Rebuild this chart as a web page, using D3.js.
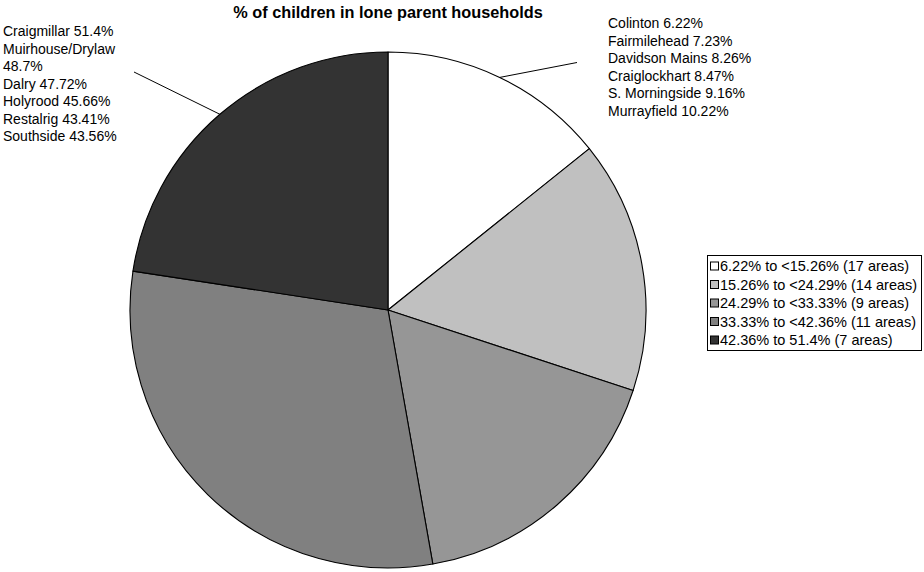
<!DOCTYPE html>
<html>
<head>
<meta charset="utf-8">
<script src="https://cdn.jsdelivr.net/npm/d3@7/dist/d3.min.js"></script>
<style>
  body { margin: 0; background: #fff; }
  svg { display: block; font-family: "Liberation Sans", Arial, sans-serif; }
</style>
</head>
<body>
<svg id="chart" width="924" height="572"></svg>
<script>
// Bands of % of children living in lone parent households
const bandLabels = [
  "6.22% to <15.26% (17 areas)",
  "15.26% to <24.29% (14 areas)",
  "24.29% to <33.33% (9 areas)",
  "33.33% to <42.36% (11 areas)",
  "42.36% to 51.4% (7 areas)"
];
// share of the pie taken by each band (%)
const bandShares = [14.25, 15.8, 17.17, 30.19, 22.59];
const bandColors = ["#ffffff", "#c0c0c0", "#969696", "#808080", "#333333"];

// lowest-rate areas (first band) and highest-rate areas (last band)
const lowNames = ["Colinton", "Fairmilehead", "Davidson Mains", "Craiglockhart", "S. Morningside", "Murrayfield"];
const lowValues = [6.22, 7.23, 8.26, 8.47, 9.16, 10.22];
const highNames = ["Craigmillar", "Muirhouse/Drylaw", "Dalry", "Holyrood", "Restalrig", "Southside"];
const highValues = [51.4, 48.7, 47.72, 45.66, 43.41, 43.56];

const titleText = "% of children in lone parent households";

const svg = d3.select("#chart");
const cx = 388, cy = 310, r = 258;

svg.append("text")
  .attr("x", cx).attr("y", 18)
  .attr("text-anchor", "middle")
  .attr("font-weight", "bold")
  .attr("font-size", 16.3)
  .text(titleText);

const pie = d3.pie().sort(null).value(d => d)
  .startAngle(0).endAngle(2 * Math.PI);
const arcs = pie(bandShares);
const arc = d3.arc().innerRadius(0).outerRadius(r);

const g = svg.append("g").attr("transform", `translate(${cx},${cy})`);
g.selectAll("path.slice")
  .data(arcs)
  .join("path")
  .attr("class", "slice")
  .attr("d", arc)
  .attr("fill", (d, i) => bandColors[i])
  .attr("stroke", "#000")
  .attr("stroke-width", 1.1)
  .attr("stroke-linejoin", "round");

// point on the rim at the middle of a slice
function rimPoint(a) {
  const m = (a.startAngle + a.endAngle) / 2;
  return [cx + r * Math.sin(m), cy - r * Math.cos(m)];
}

const fmt = v => `${v}%`;
const lineH = 17.5;
const labelSize = 14;

// label block with simple word wrapping
function labelBlock(x, y0, names, values, maxW) {
  const t = svg.append("text").attr("font-size", labelSize).attr("x", x);
  let row = 0;
  names.forEach((n, i) => {
    const full = `${n} ${fmt(values[i])}`;
    const probe = t.append("tspan").attr("x", x).attr("y", y0 + row * lineH).text(full);
    if (probe.node().getComputedTextLength() > maxW) {
      probe.text(n);
      row++;
      t.append("tspan").attr("x", x).attr("y", y0 + row * lineH).text(fmt(values[i]));
    }
    row++;
  });
}

// highest areas, top left
labelBlock(3, 36, highNames, highValues, 125);
const pHigh = rimPoint(arcs[4]);
svg.append("line")
  .attr("x1", pHigh[0]).attr("y1", pHigh[1])
  .attr("x2", 134).attr("y2", 72)
  .attr("stroke", "#000").attr("stroke-width", 1);

// lowest areas, top right
labelBlock(608, 28, lowNames, lowValues, 220);
const pLow = rimPoint(arcs[0]);
svg.append("line")
  .attr("x1", pLow[0]).attr("y1", pLow[1])
  .attr("x2", 577).attr("y2", 62.5)
  .attr("stroke", "#000").attr("stroke-width", 1);

// legend
const lg = svg.append("g");
const lx = 707.5, ly = 255.5, rowH = 18.5;
lg.append("rect")
  .attr("x", lx).attr("y", ly)
  .attr("width", 214).attr("height", 95)
  .attr("fill", "#fff").attr("stroke", "#000").attr("stroke-width", 1);
const items = lg.selectAll("g.item")
  .data(bandLabels)
  .join("g")
  .attr("class", "item")
  .attr("transform", (d, i) => `translate(${lx}, ${ly + 10.5 + i * rowH})`);
items.append("rect")
  .attr("x", 3).attr("y", -4).attr("width", 8).attr("height", 8)
  .attr("fill", (d, i) => bandColors[i])
  .attr("stroke", "#000").attr("stroke-width", 1);
items.append("text")
  .attr("x", 12.5).attr("y", 5)
  .attr("font-size", 14.5)
  .text(d => d);
</script>
</body>
</html>
